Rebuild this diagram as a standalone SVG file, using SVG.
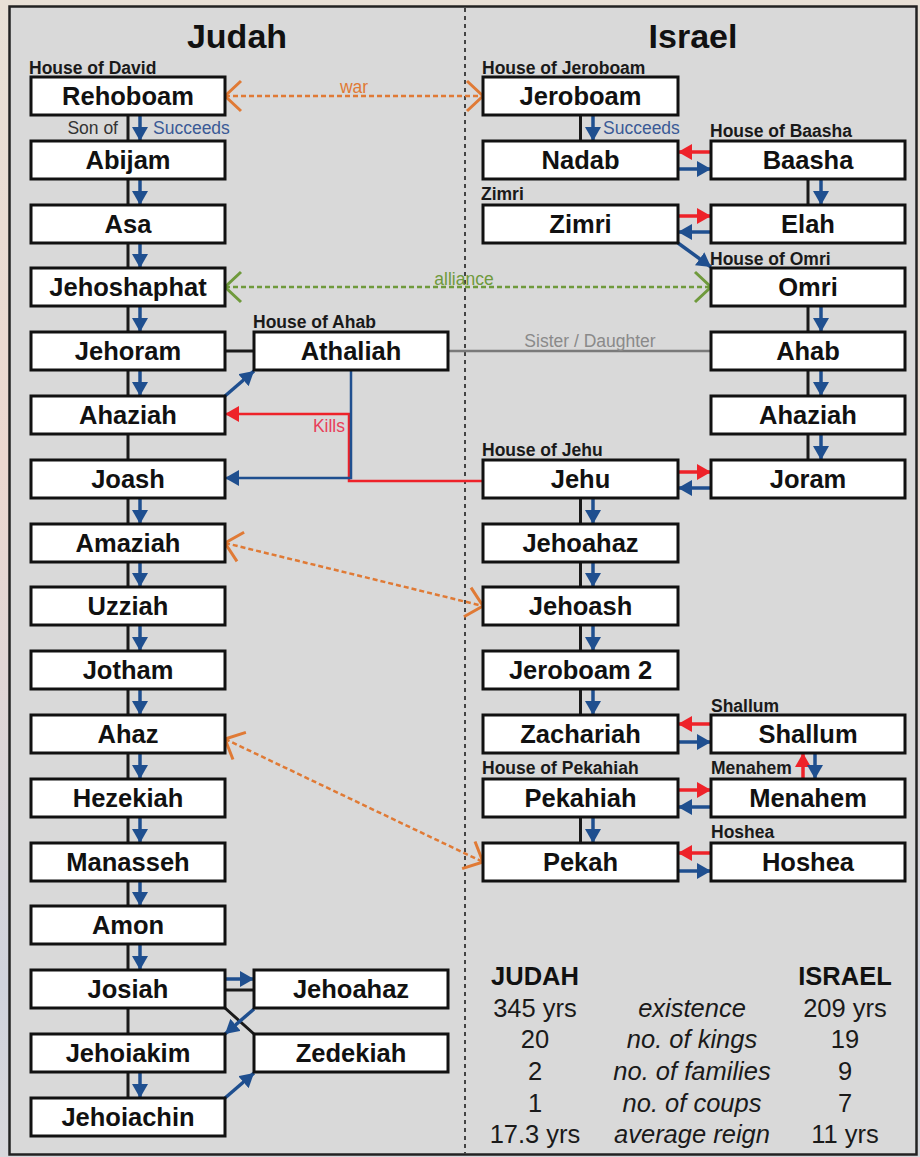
<svg xmlns="http://www.w3.org/2000/svg" width="920" height="1157" viewBox="0 0 920 1157">
<defs>
<linearGradient id="bg" x1="0" y1="0" x2="0" y2="1">
<stop offset="0" stop-color="#e8e0d6"/>
<stop offset="0.4" stop-color="#ecd8d0"/>
<stop offset="0.85" stop-color="#d0d3dd"/>
<stop offset="1" stop-color="#d8d8dc"/>
</linearGradient>
<marker id="ab" viewBox="0 0 14 16" refX="14" refY="8" markerWidth="14" markerHeight="16" markerUnits="userSpaceOnUse" orient="auto"><path d="M0,0 L14,8 L0,16 z" fill="#1f4f8f"/></marker>
<marker id="ar" viewBox="0 0 14 16" refX="14" refY="8" markerWidth="14" markerHeight="16" markerUnits="userSpaceOnUse" orient="auto"><path d="M0,0 L14,8 L0,16 z" fill="#ee2229"/></marker>
<marker id="co" viewBox="-19 -17 21 34" refX="0" refY="0" markerWidth="21" markerHeight="34" markerUnits="userSpaceOnUse" orient="auto-start-reverse" overflow="visible"><path d="M-16,-15 L0,0 L-16,15" fill="none" stroke="#e07a35" stroke-width="3"/></marker>
<marker id="cg" viewBox="-19 -17 21 34" refX="0" refY="0" markerWidth="21" markerHeight="34" markerUnits="userSpaceOnUse" orient="auto-start-reverse" overflow="visible"><path d="M-16,-15 L0,0 L-16,15" fill="none" stroke="#6f9a3c" stroke-width="3"/></marker>
</defs>
<style>
text{font-family:"Liberation Sans",Arial,sans-serif}
.box{fill:#fff;stroke:#111;stroke-width:3}
.nm{font-size:25.5px;font-weight:bold;fill:#111;text-anchor:middle}
.hl{font-size:17.5px;font-weight:bold;fill:#1a1a1a}
.ttl{font-size:34px;font-weight:bold;fill:#111;text-anchor:middle}
.blk{stroke:#1a1a1a;stroke-width:3;fill:none}
.bl{stroke:#1f4f8f;stroke-width:3.5;fill:none;marker-end:url(#ab)}
.rd{stroke:#ee2229;stroke-width:3.5;fill:none;marker-end:url(#ar)}
.blt{stroke:#1f4f8f;stroke-width:2.5;fill:none;marker-end:url(#ab)}
.rdt{stroke:#ee2229;stroke-width:2.5;fill:none;marker-end:url(#ar)}
.war{stroke:#e07a35;stroke-width:2.5;stroke-dasharray:5 3;fill:none;marker-start:url(#co);marker-end:url(#co)}
.all{stroke:#6f9a3c;stroke-width:2.5;stroke-dasharray:5 3;fill:none;marker-start:url(#cg);marker-end:url(#cg)}
.lbl{font-size:17.5px}
.st{font-size:25.5px;fill:#1a1a1a;text-anchor:middle}
.sti{font-size:25.5px;fill:#1a1a1a;text-anchor:middle;font-style:italic}
.stb{font-size:25.5px;font-weight:bold;fill:#111;text-anchor:middle}
</style>
<rect x="0" y="0" width="920" height="1157" fill="url(#bg)"/>
<rect x="9.5" y="6.5" width="907" height="1148" fill="#d9d9d9" stroke="#222" stroke-width="2.5"/>
<line x1="465" y1="8" x2="465" y2="1154" stroke="#444" stroke-width="2" stroke-dasharray="4 4"/>
<text class="ttl" x="237" y="48">Judah</text>
<text class="ttl" x="693" y="48">Israel</text>

<g id="connectors">
<path class="blk" d="M128,115V1098"/>
<path class="bl" d="M140,115V141"/>
<path class="bl" d="M140,179V205"/>
<path class="bl" d="M140,243V268"/>
<path class="bl" d="M140,306V332"/>
<path class="bl" d="M140,370V396"/>
<path class="bl" d="M140,498V524"/>
<path class="bl" d="M140,562V587"/>
<path class="bl" d="M140,625V651"/>
<path class="bl" d="M140,689V715"/>
<path class="bl" d="M140,753V779"/>
<path class="bl" d="M140,817V843"/>
<path class="bl" d="M140,881V906"/>
<path class="bl" d="M140,944V970"/>
<path class="bl" d="M140,1072V1098"/>
<path class="blk" d="M580.5,115V141M580.5,498V715M580.5,817V843M808,179V205M808,306V460"/>
<path class="bl" d="M593,115V141"/>
<path class="bl" d="M593,498V524"/>
<path class="bl" d="M593,562V587"/>
<path class="bl" d="M593,625V651"/>
<path class="bl" d="M593,689V715"/>
<path class="bl" d="M593,817V843"/>
<path class="bl" d="M821,179V205"/>
<path class="bl" d="M821,306V332"/>
<path class="bl" d="M821,370V396"/>
<path class="bl" d="M821,434V460"/>
<path class="rd" d="M803,779V753"/>
<path class="bl" d="M815,753V779"/>
<path class="rd" d="M711,152H678"/>
<path class="bl" d="M678,169H711"/>
<path class="rd" d="M678,216H711"/>
<path class="bl" d="M711,232H678"/>
<path class="bl" d="M678,243L711,267"/>
<path class="rd" d="M678,472H711"/>
<path class="bl" d="M711,488H678"/>
<path class="rd" d="M711,724H678"/>
<path class="bl" d="M678,742H711"/>
<path class="rd" d="M678,790H711"/>
<path class="bl" d="M711,807H678"/>
<path class="rd" d="M711,853H678"/>
<path class="bl" d="M678,871H711"/>
<path class="blk" d="M225,351H254"/>
<path d="M448,351H711" stroke="#7a7a7a" stroke-width="2.5" fill="none"/>
<path class="bl" d="M225,396L254,371"/>
<path class="rdt" d="M483,481H349V414H225"/>
<path class="blt" d="M351,370V478H225"/>
<path class="bl" d="M225,979H254"/>
<path class="blk" d="M225,990H254M225,1008L254,1034"/>
<path class="bl" d="M254,1009L225,1034"/>
<path class="bl" d="M225,1098L254,1073"/>
<path class="war" d="M225,96H483"/>
<path class="all" d="M225,287H711"/>
<path class="war" d="M225,543L483,606"/>
<path class="war" d="M225,739L483,862"/>
<text class="lbl" x="354" y="93" text-anchor="middle" fill="#e07a35">war</text>
<text class="lbl" x="464" y="285" text-anchor="middle" fill="#6f9a3c">alliance</text>
<text class="lbl" x="345" y="432" text-anchor="end" fill="#e8405a">Kills</text>
<text class="lbl" x="590" y="347" text-anchor="middle" fill="#8a8a8a">Sister / Daughter</text>
<text class="lbl" x="118" y="134" text-anchor="end" fill="#333">Son of</text>
<text class="lbl" x="153" y="134" fill="#3a5a96">Succeeds</text>
<text class="lbl" x="603" y="134" fill="#3a5a96">Succeeds</text>
</g>

<g id="n-rehoboam"><text class="hl" x="29" y="74">House of David</text><rect class="box" x="31" y="77" width="194" height="38"/><text class="nm" x="128" y="104.5">Rehoboam</text></g>
<g id="n-abijam"><rect class="box" x="31" y="141" width="194" height="38"/><text class="nm" x="128" y="168.5">Abijam</text></g>
<g id="n-asa"><rect class="box" x="31" y="205" width="194" height="38"/><text class="nm" x="128" y="232.5">Asa</text></g>
<g id="n-jehoshaphat"><rect class="box" x="31" y="268" width="194" height="38"/><text class="nm" x="128" y="295.5">Jehoshaphat</text></g>
<g id="n-jehoram"><rect class="box" x="31" y="332" width="194" height="38"/><text class="nm" x="128" y="359.5">Jehoram</text></g>
<g id="n-ahaziah-j"><rect class="box" x="31" y="396" width="194" height="38"/><text class="nm" x="128" y="423.5">Ahaziah</text></g>
<g id="n-joash"><rect class="box" x="31" y="460" width="194" height="38"/><text class="nm" x="128" y="487.5">Joash</text></g>
<g id="n-amaziah"><rect class="box" x="31" y="524" width="194" height="38"/><text class="nm" x="128" y="551.5">Amaziah</text></g>
<g id="n-uzziah"><rect class="box" x="31" y="587" width="194" height="38"/><text class="nm" x="128" y="614.5">Uzziah</text></g>
<g id="n-jotham"><rect class="box" x="31" y="651" width="194" height="38"/><text class="nm" x="128" y="678.5">Jotham</text></g>
<g id="n-ahaz"><rect class="box" x="31" y="715" width="194" height="38"/><text class="nm" x="128" y="742.5">Ahaz</text></g>
<g id="n-hezekiah"><rect class="box" x="31" y="779" width="194" height="38"/><text class="nm" x="128" y="806.5">Hezekiah</text></g>
<g id="n-manasseh"><rect class="box" x="31" y="843" width="194" height="38"/><text class="nm" x="128" y="870.5">Manasseh</text></g>
<g id="n-amon"><rect class="box" x="31" y="906" width="194" height="38"/><text class="nm" x="128" y="933.5">Amon</text></g>
<g id="n-josiah"><rect class="box" x="31" y="970" width="194" height="38"/><text class="nm" x="128" y="997.5">Josiah</text></g>
<g id="n-jehoiakim"><rect class="box" x="31" y="1034" width="194" height="38"/><text class="nm" x="128" y="1061.5">Jehoiakim</text></g>
<g id="n-jehoiachin"><rect class="box" x="31" y="1098" width="194" height="38"/><text class="nm" x="128" y="1125.5">Jehoiachin</text></g>
<g id="n-athaliah"><text class="hl" x="253" y="328">House of Ahab</text><rect class="box" x="254" y="332" width="194" height="38"/><text class="nm" x="351" y="359.5">Athaliah</text></g>
<g id="n-jehoahaz-j"><rect class="box" x="254" y="970" width="194" height="38"/><text class="nm" x="351" y="997.5">Jehoahaz</text></g>
<g id="n-zedekiah"><rect class="box" x="254" y="1034" width="194" height="38"/><text class="nm" x="351" y="1061.5">Zedekiah</text></g>

<g id="n-jeroboam"><text class="hl" x="482" y="74">House of Jeroboam</text><rect class="box" x="483" y="77" width="195" height="38"/><text class="nm" x="580.5" y="104.5">Jeroboam</text></g>
<g id="n-nadab"><rect class="box" x="483" y="141" width="195" height="38"/><text class="nm" x="580.5" y="168.5">Nadab</text></g>
<g id="n-zimri"><text class="hl" x="481" y="200">Zimri</text><rect class="box" x="483" y="205" width="195" height="38"/><text class="nm" x="580.5" y="232.5">Zimri</text></g>
<g id="n-jehu"><text class="hl" x="482" y="456">House of Jehu</text><rect class="box" x="483" y="460" width="195" height="38"/><text class="nm" x="580.5" y="487.5">Jehu</text></g>
<g id="n-jehoahaz-i"><rect class="box" x="483" y="524" width="195" height="38"/><text class="nm" x="580.5" y="551.5">Jehoahaz</text></g>
<g id="n-jehoash"><rect class="box" x="483" y="587" width="195" height="38"/><text class="nm" x="580.5" y="614.5">Jehoash</text></g>
<g id="n-jeroboam2"><rect class="box" x="483" y="651" width="195" height="38"/><text class="nm" x="580.5" y="678.5">Jeroboam 2</text></g>
<g id="n-zachariah"><rect class="box" x="483" y="715" width="195" height="38"/><text class="nm" x="580.5" y="742.5">Zachariah</text></g>
<g id="n-pekahiah"><text class="hl" x="482" y="774">House of Pekahiah</text><rect class="box" x="483" y="779" width="195" height="38"/><text class="nm" x="580.5" y="806.5">Pekahiah</text></g>
<g id="n-pekah"><rect class="box" x="483" y="843" width="195" height="38"/><text class="nm" x="580.5" y="870.5">Pekah</text></g>
<g id="n-baasha"><text class="hl" x="710" y="137">House of Baasha</text><rect class="box" x="711" y="141" width="194" height="38"/><text class="nm" x="808" y="168.5">Baasha</text></g>
<g id="n-elah"><rect class="box" x="711" y="205" width="194" height="38"/><text class="nm" x="808" y="232.5">Elah</text></g>
<g id="n-omri"><text class="hl" x="710" y="265">House of Omri</text><rect class="box" x="711" y="268" width="194" height="38"/><text class="nm" x="808" y="295.5">Omri</text></g>
<g id="n-ahab"><rect class="box" x="711" y="332" width="194" height="38"/><text class="nm" x="808" y="359.5">Ahab</text></g>
<g id="n-ahaziah-i"><rect class="box" x="711" y="396" width="194" height="38"/><text class="nm" x="808" y="423.5">Ahaziah</text></g>
<g id="n-joram"><rect class="box" x="711" y="460" width="194" height="38"/><text class="nm" x="808" y="487.5">Joram</text></g>
<g id="n-shallum"><text class="hl" x="711" y="712">Shallum</text><rect class="box" x="711" y="715" width="194" height="38"/><text class="nm" x="808" y="742.5">Shallum</text></g>
<g id="n-menahem"><text class="hl" x="711" y="774">Menahem</text><rect class="box" x="711" y="779" width="194" height="38"/><text class="nm" x="808" y="806.5">Menahem</text></g>
<g id="n-hoshea"><text class="hl" x="711" y="838">Hoshea</text><rect class="box" x="711" y="843" width="194" height="38"/><text class="nm" x="808" y="870.5">Hoshea</text></g>

<g id="stats">
<text class="stb" x="535" y="985">JUDAH</text>
<text class="stb" x="845" y="985">ISRAEL</text>
<text class="st" x="535" y="1017">345 yrs</text>
<text class="sti" x="692" y="1017">existence</text>
<text class="st" x="845" y="1017">209 yrs</text>
<text class="st" x="535" y="1048">20</text>
<text class="sti" x="692" y="1048">no. of kings</text>
<text class="st" x="845" y="1048">19</text>
<text class="st" x="535" y="1080">2</text>
<text class="sti" x="692" y="1080">no. of families</text>
<text class="st" x="845" y="1080">9</text>
<text class="st" x="535" y="1112">1</text>
<text class="sti" x="692" y="1112">no. of coups</text>
<text class="st" x="845" y="1112">7</text>
<text class="st" x="535" y="1143">17.3 yrs</text>
<text class="sti" x="692" y="1143">average reign</text>
<text class="st" x="845" y="1143">11 yrs</text>
</g>
</svg>
